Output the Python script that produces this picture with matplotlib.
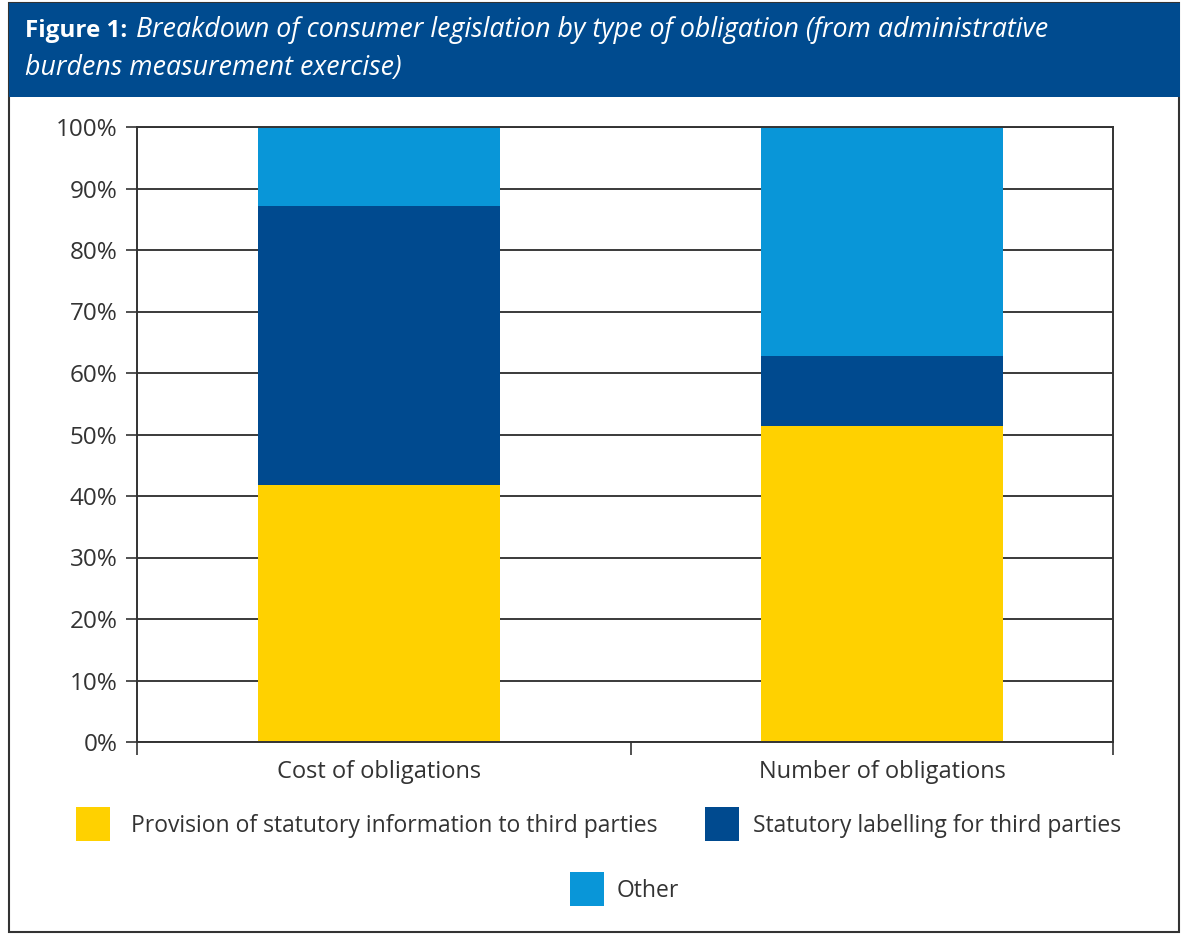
import numpy as np
import matplotlib
matplotlib.use("Agg")
import matplotlib.pyplot as plt
from matplotlib.patches import Rectangle

plt.rcParams['font.family'] = ['Open Sans', 'DejaVu Sans']

# data
categories = ['Cost of obligations', 'Number of obligations']
series_names = ['Provision of statutory information to third parties',
                'Statutory labelling for third parties',
                'Other']
provision = [41.8, 51.4]
labelling = [45.4, 11.4]
other = [12.8, 37.2]
colors = ['#FFD100', '#004A8F', '#0996D8']
yticks = [0, 10, 20, 30, 40, 50, 60, 70, 80, 90, 100]

W, H = 1181, 935
fig = plt.figure(figsize=(W / 100, H / 100), dpi=100)
txt = '#333333'

# outer frame and header
fig.patches.append(Rectangle((9 / W, 3 / H), 1170 / W, 929 / H, transform=fig.transFigure,
                             fill=False, edgecolor='#333333', linewidth=1.5))
fig.patches.append(Rectangle((9 / W, (H - 97) / H), 1171 / W, 94 / H, transform=fig.transFigure,
                             facecolor='#004B8F', edgecolor='none'))
fig.text(25 / W, (H - 37) / H, 'Figure 1:', color='white', fontsize=17.5, fontweight='bold',
         va='baseline', ha='left')
fig.text(136 / W, (H - 37) / H,
         'Breakdown of consumer legislation by type of obligation (from administrative',
         color='white', fontsize=19.3, style='italic', va='baseline', ha='left')
fig.text(25 / W, (H - 75) / H, 'burdens measurement exercise)', color='white', fontsize=19.3,
         style='italic', va='baseline', ha='left')

ax = fig.add_axes([137 / W, (H - 742) / H, 976 / W, 615 / H])
x = np.arange(len(categories))
bottom = np.zeros(len(categories))
for vals, c, name in zip([provision, labelling, other], colors, series_names):
    ax.bar(x, vals, width=0.481, bottom=bottom, color=c, label=name, zorder=2)
    bottom += np.array(vals)

ax.set_xlim(-0.481, 1.459)
ax.set_ylim(0, 100)
ax.set_yticks(yticks)
ax.set_yticklabels([f'{v}%' for v in yticks])
ax.set_xticks(x)
ax.set_xticklabels(categories)
ax.set_xticks([-0.481, 0.5, 1.459], minor=True)
ax.tick_params(axis='x', which='major', length=0, pad=13, labelsize=17, labelcolor=txt)
ax.tick_params(axis='x', which='minor', length=9, width=1.2, color='#333333', direction='out')
ax.tick_params(axis='y', length=8, width=1.2, color='#333333', labelsize=17.5, labelcolor=txt, pad=6)
ax.yaxis.grid(True, color='#3a3a3a', linewidth=1.4, zorder=0)
ax.set_axisbelow(True)
for s in ax.spines.values():
    s.set_color('#333333')
    s.set_linewidth(1.4)

# legend
leg = [(76, 824, 131), (705, 824, 753), (570, 889, 617)]
for (lx, ly, tx), c, name in zip(leg, colors, series_names):
    fig.patches.append(Rectangle((lx / W, (H - ly - 17) / H), 34 / W, 34 / H,
                                 transform=fig.transFigure, facecolor=c, edgecolor='none'))
    fig.text(tx / W, (H - ly - 2) / H, name, fontsize=16.5, color=txt, va='center', ha='left')

fig.savefig('out.png', dpi=100)
